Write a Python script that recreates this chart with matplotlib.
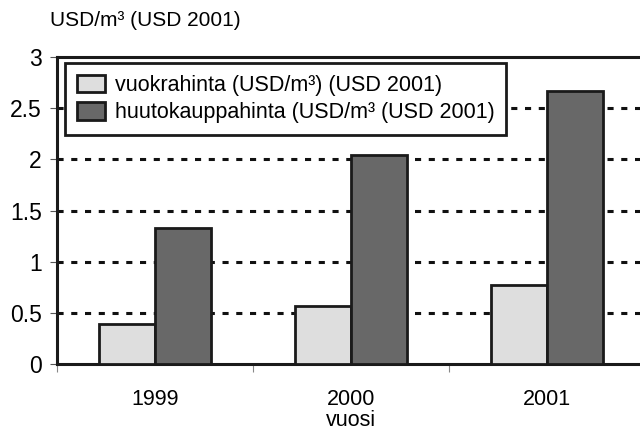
import matplotlib
matplotlib.use("Agg")
import matplotlib.pyplot as plt
import numpy as np

years = ["1999", "2000", "2001"]
vuokrahinta = [0.39, 0.57, 0.77]
huutokauppahinta = [1.33, 2.04, 2.67]
yticks = [0, 0.5, 1, 1.5, 2, 2.5, 3]
ytick_labels = ["0", "0.5", "1", "1.5", "2", "2.5", "3"]
label_light = "vuokrahinta (USD/m³) (USD 2001)"
label_dark = "huutokauppahinta (USD/m³ (USD 2001)"

plt.rcParams['font.family'] = ['Liberation Sans', 'DejaVu Sans']

fig = plt.figure(figsize=(6.4, 4.32), dpi=100)
ax = fig.add_axes([57/640, 1-364/432, 588/640, 307/432])

x = np.arange(len(years))
w = 0.286
ax.bar(x - w/2, vuokrahinta, w, color="#dedede", edgecolor="#1a1a1a", linewidth=2.0, zorder=3, label=label_light)
ax.bar(x + w/2, huutokauppahinta, w, color="#686868", edgecolor="#1a1a1a", linewidth=2.0, zorder=3, label=label_dark)

for yv in [0.5, 1, 1.5, 2, 2.5]:
    ax.axhline(yv, color="#111111", linewidth=2.2, linestyle=(0, (2.0, 2.5)), zorder=1)

ax.set_ylim(0, 3)
ax.set_xlim(-0.5, 2.5)
ax.set_yticks(yticks)
ax.set_yticklabels(ytick_labels, fontsize=16.5)
ax.set_xticks(x)
ax.set_xticklabels(years, fontsize=15.5)
ax.set_xticks([-0.5, 0.5, 1.5, 2.5], minor=True)
ax.tick_params(axis='x', which='major', length=0, pad=18)
ax.tick_params(axis='x', which='minor', length=6, width=0.8, color="#888888", direction='out')
ax.tick_params(axis='y', length=5, width=0.8, color="#555555", pad=6)

for side in ["left", "top", "bottom"]:
    ax.spines[side].set_linewidth(2.2)
    ax.spines[side].set_color("#1a1a1a")
ax.spines["right"].set_visible(False)

ax.set_xlabel("vuosi", fontsize=15.5, labelpad=0)

fig.text(50/640, 1-21/432, "USD/m³ (USD 2001)", fontsize=15, va="center", ha="left")

leg = ax.legend(loc="upper left", bbox_to_anchor=(65/640, 1-63/432), bbox_transform=fig.transFigure,
                borderaxespad=0, fontsize=15.5, frameon=True, fancybox=False,
                handlelength=1.3, handleheight=0.85, handletextpad=0.45, labelspacing=0.3,
                borderpad=0.55)
leg.get_frame().set_edgecolor("#1a1a1a")
leg.get_frame().set_linewidth(2.0)
leg.get_frame().set_facecolor("white")
leg.get_frame().set_alpha(1)
leg.set_zorder(5)

fig.savefig("out.png", dpi=100)
